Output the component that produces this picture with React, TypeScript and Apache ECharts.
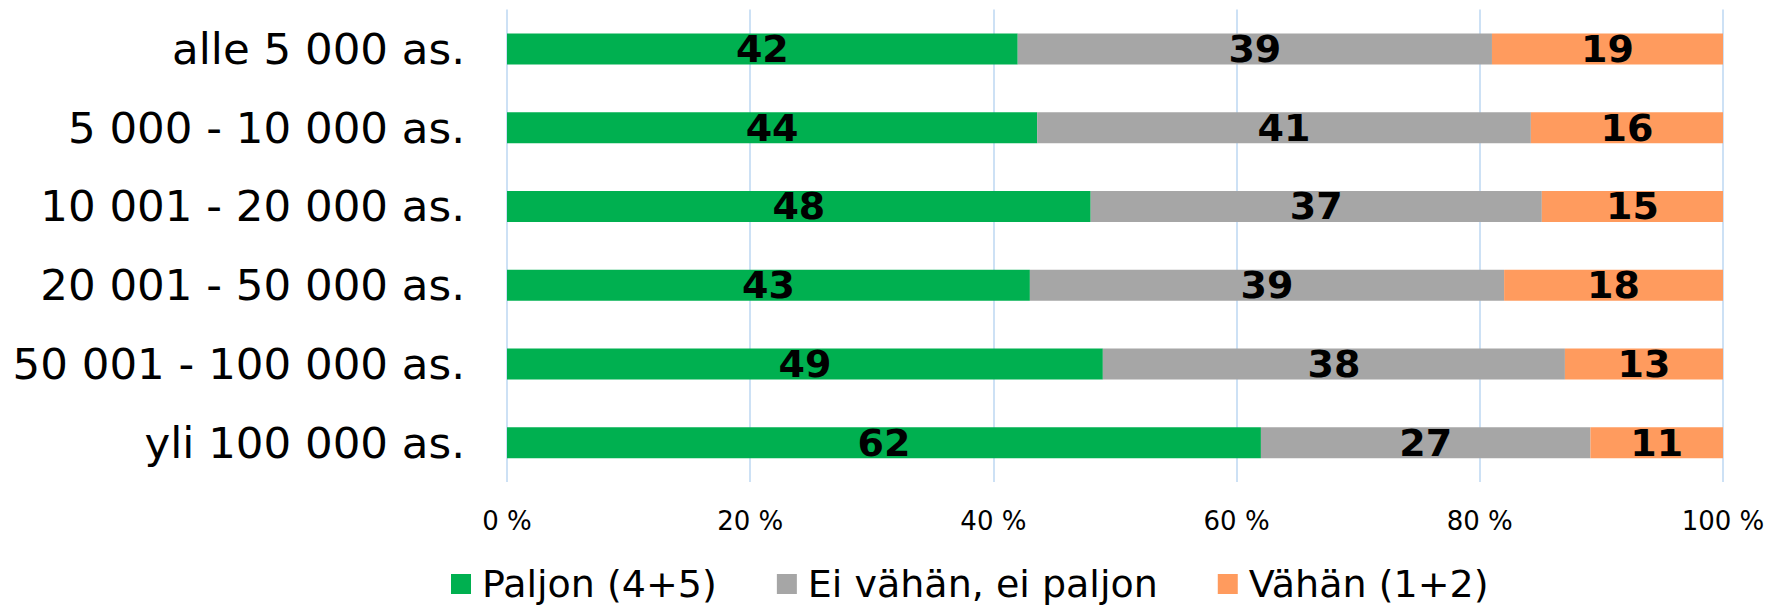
import React, { useEffect, useRef } from "react";
import * as echarts from "echarts";

const categories = [
  "alle 5 000 as.",
  "5 000 - 10 000 as.",
  "10 001 - 20 000 as.",
  "20 001 - 50 000 as.",
  "50 001 - 100 000 as.",
  "yli 100 000 as.",
];
const seriesNames = ["Paljon (4+5)", "Ei vähän, ei paljon", "Vähän (1+2)"];
const paljon = [42.0, 43.6, 48.0, 43.0, 49.0, 62.0];
const eiVahanEiPaljon = [39.0, 40.6, 37.1, 39.0, 38.0, 27.1];
const vahan = [19.0, 15.8, 14.9, 18.0, 13.0, 10.9];
const xTicks = [0, 20, 40, 60, 80, 100];
const colors = ["#00B050", "#A6A6A6", "#FF9B5E"];

const FONT = "DejaVu Sans";

export default function App() {
  const ref = useRef<HTMLDivElement>(null);
  useEffect(() => {
    if (!ref.current) return;
    const chart = echarts.init(ref.current, undefined, { renderer: "svg" });
    const values = [paljon, eiVahanEiPaljon, vahan];
    chart.setOption({
      animation: false,
      backgroundColor: "#ffffff",
      textStyle: { fontFamily: FONT },
      grid: { left: 507, right: 47, top: 9.6, bottom: 125, containLabel: false },
      legend: {
        data: seriesNames,
        left: 446,
        top: 559,
        itemWidth: 20,
        itemHeight: 20,
        itemGap: 60,
        icon: "rect",
        textStyle: { fontSize: 38, lineHeight: 40, color: "#000", fontFamily: FONT, padding: [0, 0, 0, 6] },
      },
      xAxis: {
        type: "value",
        min: 0,
        max: 100,
        interval: 20,
        axisLine: { show: false },
        axisTick: { show: false },
        splitLine: { show: true, lineStyle: { color: "#BDD7F2", width: 1.5 } },
        axisLabel: {
          fontSize: 26,
          color: "#000",
          fontFamily: FONT,
          margin: 26,
          formatter: (v: number) => (xTicks.includes(v) ? `${v} %` : ""),
        },
      },
      yAxis: {
        type: "category",
        data: categories,
        inverse: true,
        axisLine: { show: false },
        axisTick: { show: false },
        splitLine: { show: false },
        axisLabel: { fontSize: 43.5, color: "#000", fontFamily: FONT, margin: 42 },
      },
      series: seriesNames.map((name, i) => ({
        name,
        type: "bar",
        stack: "total",
        barWidth: 31,
        data: values[i],
        itemStyle: { color: colors[i] },
        label: {
          show: true,
          position: "inside",
          color: "#000",
          fontSize: 38,
          fontWeight: "bold",
          fontFamily: FONT,
          formatter: (p: any) => `${Math.round(p.value)}`,
        },
      })),
    });
    return () => chart.dispose();
  }, []);
  return (
    <div
      ref={ref}
      style={{ position: "fixed", left: 0, top: 0, width: 1770, height: 607 }}
    />
  );
}
